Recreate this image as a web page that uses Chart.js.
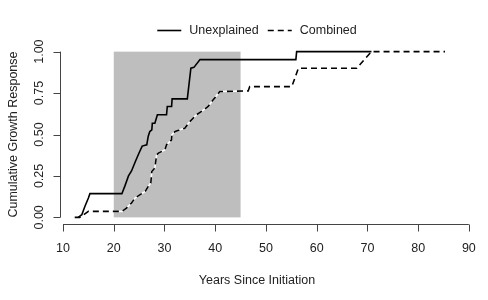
<!DOCTYPE html>
<html>
<head>
<meta charset="utf-8">
<script src="https://cdn.jsdelivr.net/npm/chart.js@4/dist/chart.umd.min.js"></script>
<style>
  html, body { margin: 0; padding: 0; background: #fff; }
  #wrap { width: 488px; height: 300px; }
</style>
</head>
<body>
<div id="wrap"><canvas id="ecdf-canvas"></canvas></div>
<script>
// values
const unexplainedYears = [13.0, 13.7, 14.3, 15.0, 15.3, 21.6, 22.2, 22.9, 23.5, 24.3, 25.0, 25.6, 26.5, 26.8, 27.1, 27.5, 27.6, 28.1, 28.6, 30.4, 30.55, 31.4, 31.5, 34.5, 35.2, 35.8, 37.0, 55.9, 56.05, 70.8];
const unexplainedResponse = [0, 0.016, 0.066, 0.117, 0.143, 0.143, 0.19, 0.25, 0.28, 0.34, 0.39, 0.43, 0.438, 0.49, 0.518, 0.528, 0.568, 0.568, 0.619, 0.619, 0.669, 0.669, 0.715, 0.715, 0.90, 0.905, 0.952, 0.952, 1.0, 1.0];

const combinedYears = [12.3, 13.3, 15.0, 21.6, 22.5, 23.5, 24.2, 25.5, 26.2, 26.8, 27.3, 27.5, 28.1, 28.46, 28.8, 30.1, 30.4, 30.75, 31.4, 31.45, 32.1, 33.0, 34.0, 35.0, 36.3, 37.3, 38.6, 39.6, 40.9, 46.5, 46.8, 55.1, 56.4, 67.9, 70.8, 85.3];
const combinedResponse = [0, 0, 0.036, 0.036, 0.056, 0.087, 0.117, 0.143, 0.157, 0.187, 0.207, 0.277, 0.298, 0.378, 0.388, 0.408, 0.438, 0.448, 0.468, 0.498, 0.518, 0.528, 0.538, 0.578, 0.619, 0.639, 0.669, 0.709, 0.759, 0.763, 0.789, 0.789, 0.90, 0.90, 1.0, 1.0];

const shadeYears = [20, 45];
const shadeResponse = [0, 1];

const xTicks = [10, 20, 30, 40, 50, 60, 70, 80, 90];
const yTicks = [0, 0.25, 0.5, 0.75, 1];
const yTickLabels = ['0.00', '0.25', '0.50', '0.75', '1.00'];
const seriesNames = ['Unexplained', 'Combined'];

const toPoints = (xs, ys) => xs.map((x, i) => ({x: x, y: ys[i]}));

const FONT = '12.5px "Liberation Sans", Arial, sans-serif';
const INK = '#222';
const midX = 257;
const LW = 1.6;

// R-style axes, shaded window and legend
const baseGraphics = {
    id: 'baseGraphics',
    beforeDatasetsDraw(chart) {
        const ctx = chart.ctx, xs = chart.scales.x, ys = chart.scales.y;
        const l = xs.getPixelForValue(shadeYears[0]), r = xs.getPixelForValue(shadeYears[1]);
        const t = ys.getPixelForValue(shadeResponse[1]), b = ys.getPixelForValue(shadeResponse[0]);
        ctx.save();
        ctx.fillStyle = '#bebebe';
        ctx.fillRect(l, t, r - l, b - t);
        ctx.restore();
    },
    afterDraw(chart) {
        const ctx = chart.ctx, xs = chart.scales.x, ys = chart.scales.y, area = chart.chartArea;
        ctx.save();
        ctx.strokeStyle = '#444';
        ctx.lineWidth = 1;
        ctx.fillStyle = INK;
        ctx.font = FONT;

        // x axis
        const ax = area.bottom + 0.5;
        ctx.beginPath();
        ctx.moveTo(xs.getPixelForValue(xTicks[0]), ax);
        ctx.lineTo(xs.getPixelForValue(xTicks[xTicks.length - 1]), ax);
        xTicks.forEach(v => {
            const px = Math.round(xs.getPixelForValue(v)) + 0.5;
            ctx.moveTo(px, ax);
            ctx.lineTo(px, ax + 7);
        });
        ctx.stroke();
        ctx.textAlign = 'center';
        ctx.textBaseline = 'middle';
        xTicks.forEach(v => ctx.fillText(String(v), xs.getPixelForValue(v), 249));
        ctx.fillText('Years Since Initiation', midX, 281);

        // y axis
        const ay = area.left + 0.5;
        ctx.beginPath();
        ctx.moveTo(ay, ys.getPixelForValue(yTicks[0]));
        ctx.lineTo(ay, ys.getPixelForValue(yTicks[yTicks.length - 1]));
        yTicks.forEach(v => {
            const py = Math.round(ys.getPixelForValue(v)) + 0.5;
            ctx.moveTo(ay, py);
            ctx.lineTo(ay - 7, py);
        });
        ctx.stroke();
        yTicks.forEach((v, i) => {
            ctx.save();
            ctx.translate(40, ys.getPixelForValue(v));
            ctx.rotate(-Math.PI / 2);
            ctx.fillText(yTickLabels[i], 0, 0);
            ctx.restore();
        });
        ctx.save();
        ctx.translate(14, (area.top + area.bottom) / 2);
        ctx.rotate(-Math.PI / 2);
        ctx.fillText('Cumulative Growth Response', 0, 0);
        ctx.restore();

        // legend
        const lineLen = 24, gapText = 8, gapItem = 9, ly = 30.5;
        const w1 = ctx.measureText(seriesNames[0]).width;
        const w2 = ctx.measureText(seriesNames[1]).width;
        const total = lineLen + gapText + w1 + gapItem + lineLen + gapText + w2;
        let x0 = midX - total / 2;
        ctx.textAlign = 'left';
        ctx.strokeStyle = '#000';
        ctx.lineWidth = LW;
        [[seriesNames[0], [], w1], [seriesNames[1], [6, 4], w2]].forEach(([name, dash, w]) => {
            ctx.setLineDash(dash);
            ctx.beginPath();
            ctx.moveTo(x0, ly);
            ctx.lineTo(x0 + lineLen, ly);
            ctx.stroke();
            ctx.fillText(name, x0 + lineLen + gapText, ly);
            x0 += lineLen + gapText + w + gapItem;
        });
        ctx.restore();
    }
};

const ecdfContext = document.getElementById('ecdf-canvas').getContext('2d');

const ecdfChart = new Chart(ecdfContext, {
    type: 'line',
    data: {
        datasets: [{
            label: seriesNames[0],
            data: toPoints(unexplainedYears, unexplainedResponse),
            borderColor: '#000',
            borderWidth: LW,
            pointRadius: 0,
            tension: 0,
            fill: false,
            order: 0
        }, {
            label: seriesNames[1] + ' (underlay)',
            data: toPoints(combinedYears, combinedResponse),
            borderColor: '#fff',
            borderWidth: LW,
            pointRadius: 0,
            tension: 0,
            fill: false,
            order: 2
        }, {
            label: seriesNames[1],
            data: toPoints(combinedYears, combinedResponse),
            borderColor: '#000',
            borderWidth: LW,
            borderDash: [6, 4],
            pointRadius: 0,
            tension: 0,
            fill: false,
            order: 1
        }]
    },
    options: {
        responsive: true,
        maintainAspectRatio: false,
        animation: false,
        layout: {
            padding: {left: 60, right: 9, top: 45, bottom: 76}
        },
        scales: {
            x: {type: 'linear', min: 9.4, max: 92, display: false},
            y: {type: 'linear', min: -0.04, max: 1.04, display: false}
        },
        plugins: {
            legend: {display: false},
            tooltip: {enabled: false}
        }
    },
    plugins: [baseGraphics]
});
</script>
</body>
</html>
